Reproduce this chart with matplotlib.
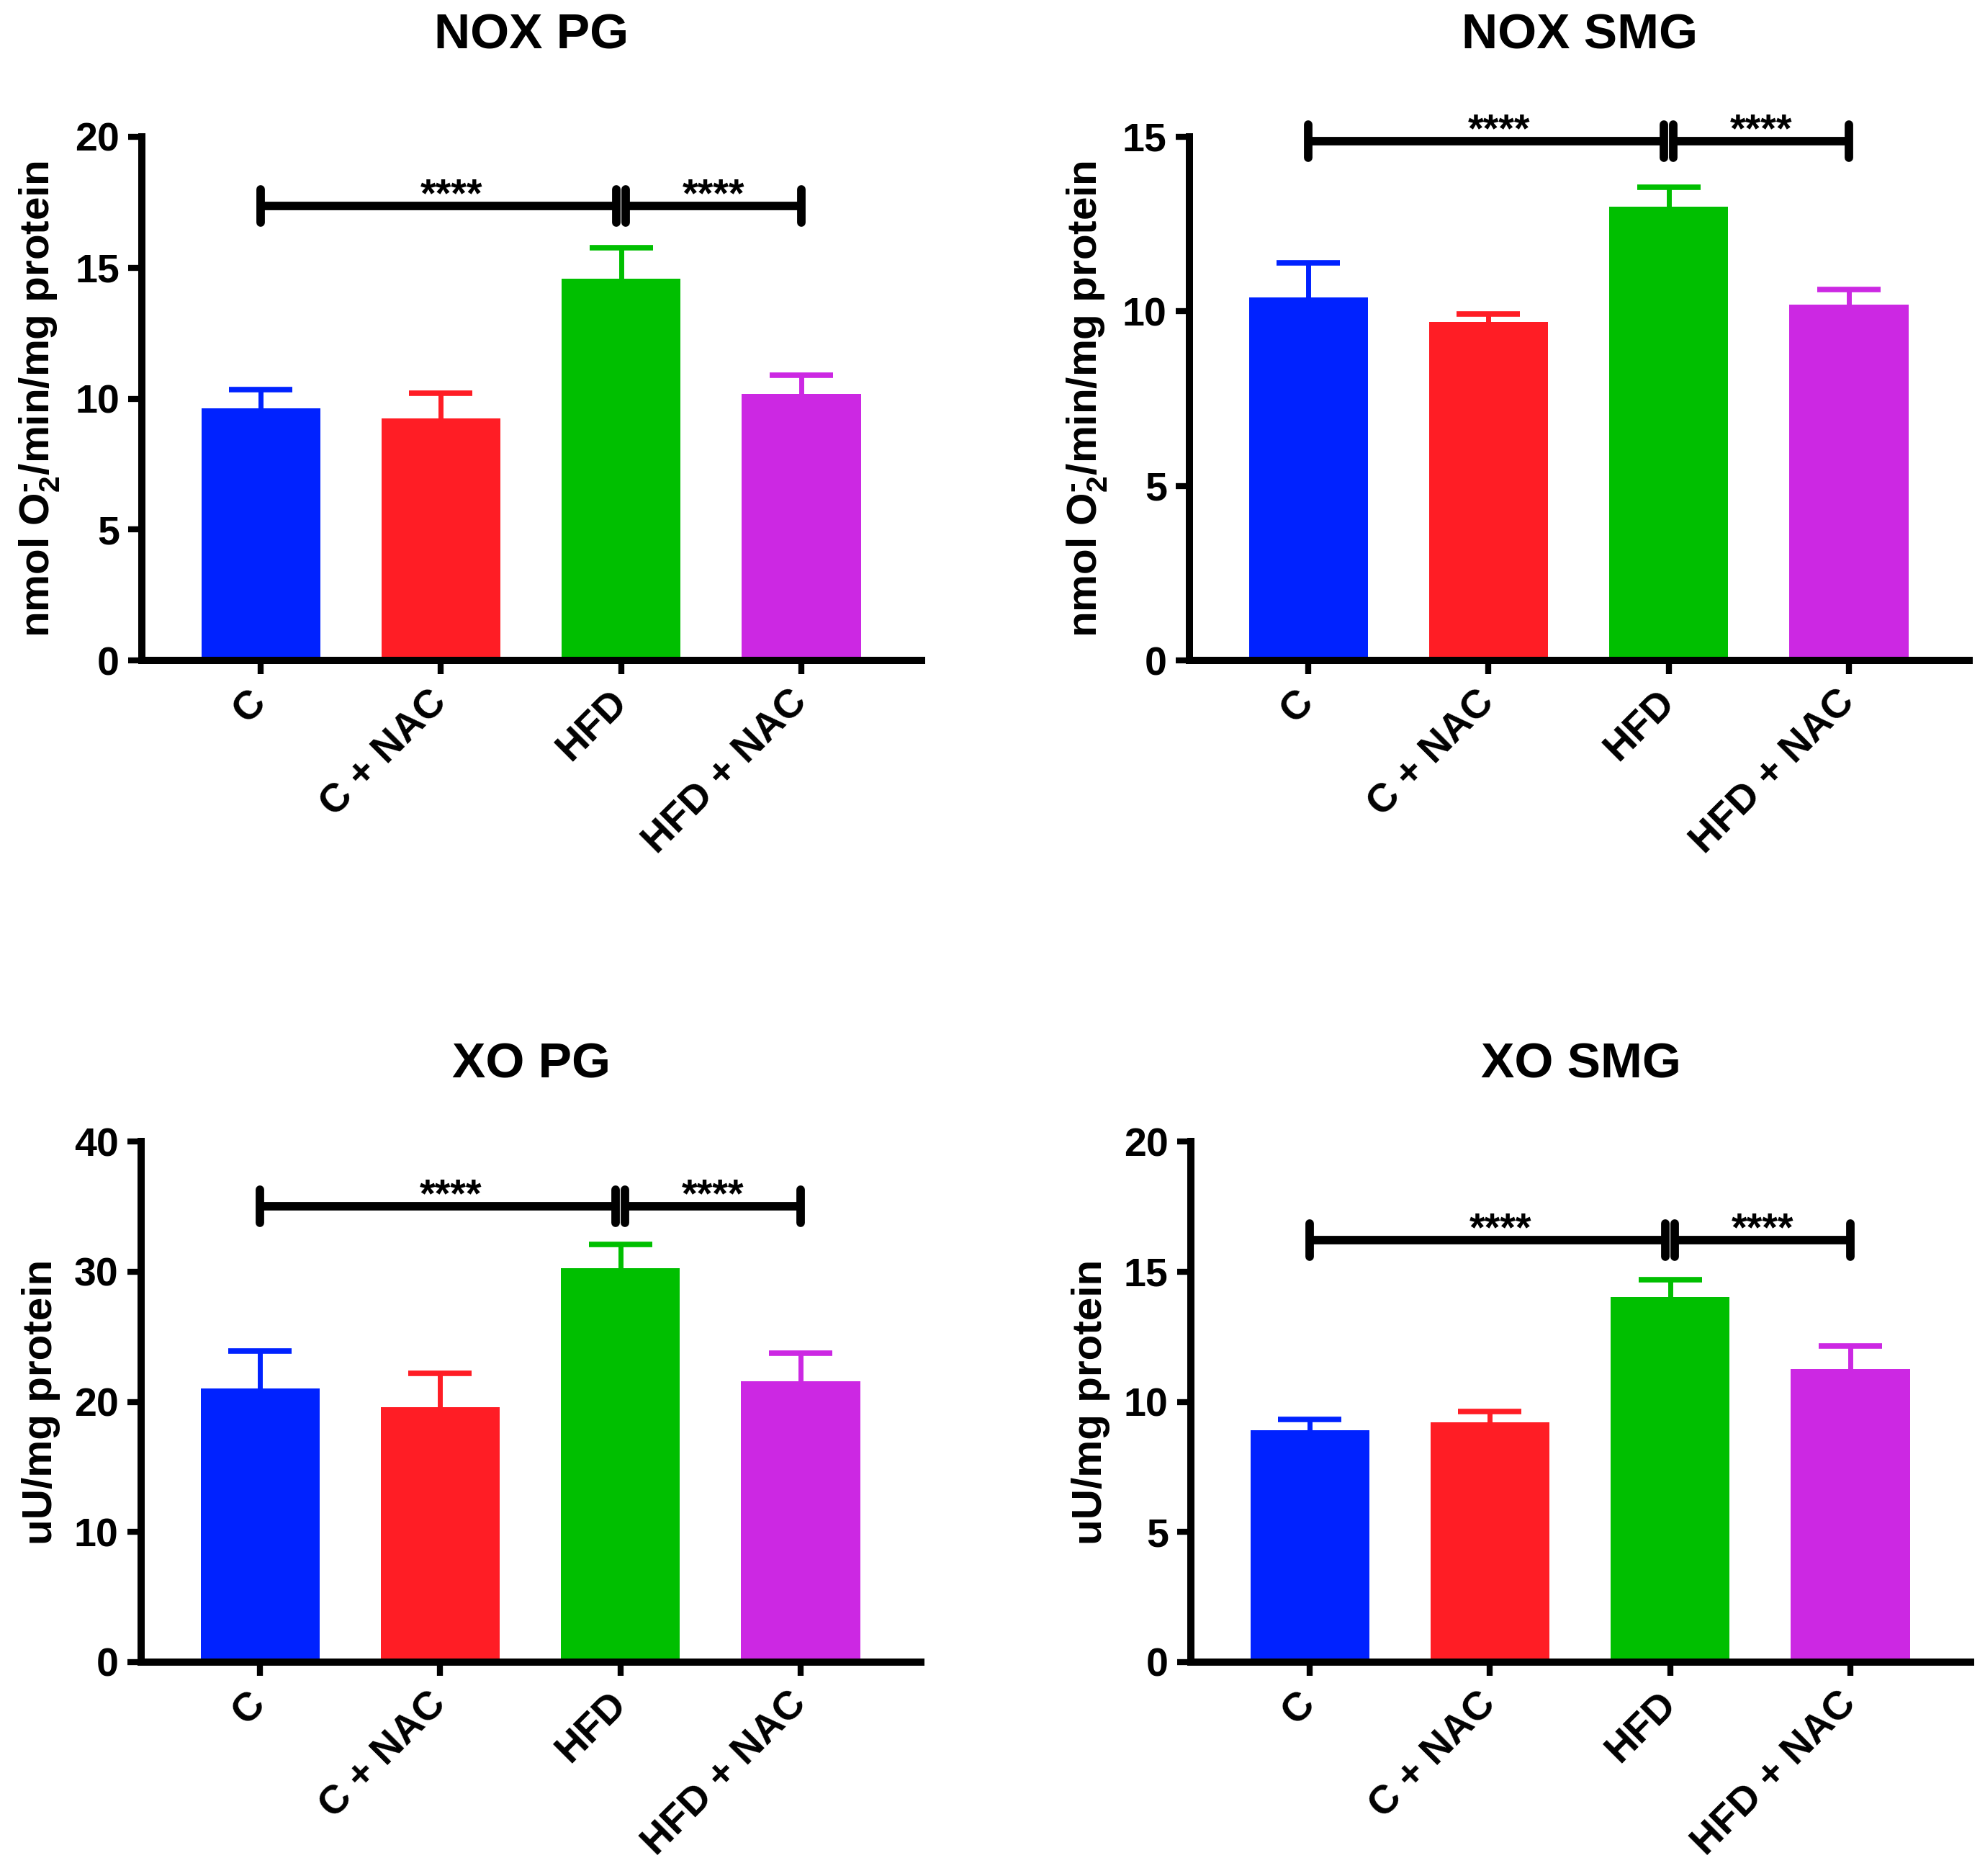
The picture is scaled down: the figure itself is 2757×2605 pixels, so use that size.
import matplotlib
matplotlib.use('Agg')
import matplotlib.pyplot as plt
from matplotlib.markers import MarkerStyle

plt.rcParams['font.family'] = ['Liberation Sans', 'DejaVu Sans']
plt.rcParams['font.weight'] = 'bold'
plt.rcParams['mathtext.fontset'] = 'custom'
plt.rcParams['mathtext.rm'] = 'Liberation Sans:bold'
plt.rcParams['mathtext.bf'] = 'Liberation Sans:bold'
plt.rcParams['mathtext.it'] = 'Liberation Sans:bold'
plt.rcParams['mathtext.default'] = 'bf'

# ---------------- data ----------------
groups = ['C', 'C + NAC', 'HFD', 'HFD + NAC']
bar_colors = ['#0022FF', '#FF1D25', '#00BF00', '#CC28E3']

titles = ['NOX PG', 'NOX SMG', 'XO PG', 'XO SMG']
ylabels = [r'nmol O$_2^{\text{-}}$/min/mg protein', r'nmol O$_2^{\text{-}}$/min/mg protein',
           'uU/mg protein', 'uU/mg protein']

nox_pg_mean = [9.63, 9.25, 14.57, 10.18]
nox_pg_sem = [0.71, 0.95, 1.18, 0.72]
nox_smg_mean = [10.40, 9.70, 13.00, 10.20]
nox_smg_sem = [0.98, 0.23, 0.55, 0.42]
xo_pg_mean = [21.0, 19.56, 30.27, 21.6]
xo_pg_sem = [2.9, 2.64, 1.83, 2.15]
xo_smg_mean = [8.90, 9.20, 14.02, 11.25]
xo_smg_sem = [0.41, 0.43, 0.66, 0.90]

ymax = [20, 15, 40, 20]
ystep = [5, 5, 10, 5]

# significance brackets: (from group, to group, label) and their heights
sig_pairs = [(0, 2, '****'), (2, 3, '****')]
sig_height = [17.35, 14.88, 35.0, 16.2]

means = [nox_pg_mean, nox_smg_mean, xo_pg_mean, xo_smg_mean]
sems = [nox_pg_sem, nox_smg_sem, xo_pg_sem, xo_smg_sem]

# ---------------- layout ----------------
W, H = 2757, 2605
fig = plt.figure(figsize=(W / 100, H / 100), dpi=100)

rects = [
    (197, 190, 1083, 727),
    (1652, 190, 1083, 727),
    (196, 1585, 1083, 723),
    (1654, 1585, 1083, 723),
]
title_pads = [88, 88, 64, 64]

x = list(range(len(groups)))

for i in range(4):
    l, t, w, h = rects[i]
    ax = fig.add_axes([l / W, 1 - (t + h) / H, w / W, h / H])
    for j in x:
        m = means[i][j]
        top = m + sems[i][j]
        ax.bar(j, m, width=0.66, color=bar_colors[j], edgecolor='none', zorder=2)
        # upward-only error bar (stem + single cap)
        ax.errorbar(j, m, yerr=[[0], [sems[i][j]]], fmt='none',
                    ecolor=bar_colors[j], elinewidth=5, capsize=0, zorder=3)
        ax.plot([j], [top], ls='none', marker='_', ms=64, mew=5.5,
                color=bar_colors[j], zorder=3)
    ax.set_xlim(-0.66, 3.667)
    ax.set_ylim(0, ymax[i])
    ax.set_yticks(range(0, ymax[i] + 1, ystep[i]))
    ax.set_xticks(x)
    ax.set_xticklabels(groups, rotation=45, ha='right', va='center',
                       rotation_mode='anchor', fontsize=40, fontweight='bold')
    for lab in ax.get_yticklabels():
        lab.set_fontsize(40)
        lab.set_fontweight('bold')
    ax.tick_params(axis='both', direction='out', length=13.5, width=6, color='black')
    ax.tick_params(axis='y', pad=9)
    ax.tick_params(axis='x', pad=23)
    for s in ['top', 'right']:
        ax.spines[s].set_visible(False)
    for s in ['left', 'bottom']:
        ax.spines[s].set_linewidth(7.2)
        ax.spines[s].set_color('black')
    ax.set_ylabel(ylabels[i], fontsize=42, fontweight='bold')
    ax.yaxis.set_label_coords(-0.103, 0.5)
    ax.set_title(titles[i], fontsize=50, fontweight='bold', pad=title_pads[i])

    y = sig_height[i]
    gap = 0.026
    for (a, b, lab) in sig_pairs:
        x0 = a + (gap if a == 2 else 0)
        x1 = b - (gap if b == 2 else 0)
        ax.plot([x0, x1], [y, y], color='black', lw=8.5, solid_capstyle='butt',
                clip_on=False, zorder=5)
        ax.plot([x0, x1], [y, y], ls='none',
                marker=MarkerStyle('|', capstyle='round'), ms=33, mew=8.5,
                color='black', clip_on=False, zorder=5)
        sx = (x0 + x1) / 2 + (0.07 if a == 0 else 0)
        ax.text(sx, y, lab, ha='center', va='baseline', fontsize=40,
                fontweight='bold', clip_on=False, zorder=6)

fig.savefig('out.png', dpi=100, facecolor='white')
